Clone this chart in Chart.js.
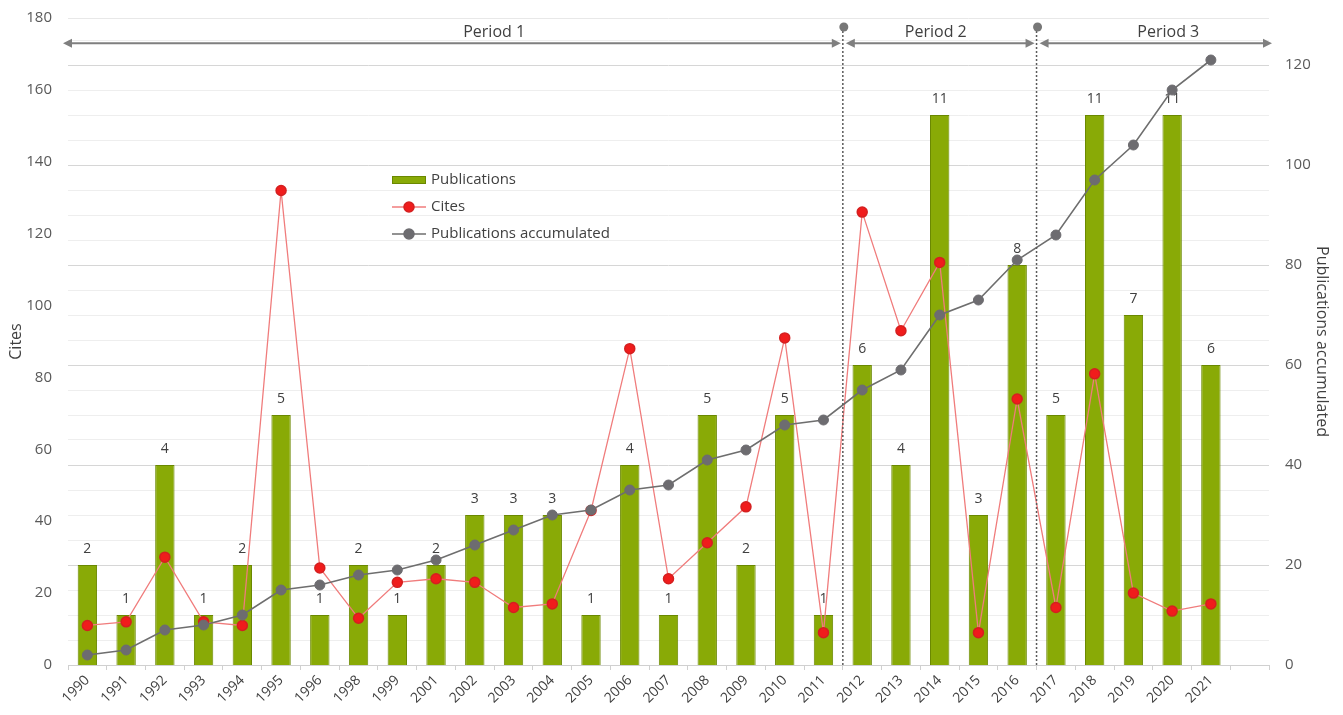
<!DOCTYPE html>
<html>
<head>
<meta charset="utf-8">
<script src="https://cdn.jsdelivr.net/npm/chart.js@4.4.1/dist/chart.umd.min.js"></script>
<style>
  html, body { margin: 0; padding: 0; background: #ffffff; overflow: hidden; }
  #wrap { width: 1343px; height: 715px; position: relative; }
</style>
</head>
<body>
<div id="wrap"><canvas id="chart" width="1343" height="715"></canvas></div>
<script>
// ---- data ----
const years = ['1990','1991','1992','1993','1994','1995','1996','1998','1999','2001',
               '2002','2003','2004','2005','2006','2007','2008','2009','2010','2011',
               '2012','2013','2014','2015','2016','2017','2018','2019','2020','2021'];
const publications = [2, 1, 4, 1, 2, 5, 1, 2, 1, 2,
                      3, 3, 3, 1, 4, 1, 5, 2, 5, 1,
                      6, 4, 11, 3, 8, 5, 11, 7, 11, 6];
const cites = [11, 12, 30, 12, 11, 132, 27, 13, 23, 24,
               23, 16, 17, 43, 88, 24, 34, 44, 91, 9,
               126, 93, 112, 9, 74, 16, 81, 20, 15, 17];
const accumulated = [2, 3, 7, 8, 10, 15, 16, 18, 19, 21,
                     24, 27, 30, 31, 35, 36, 41, 43, 48, 49,
                     55, 59, 70, 73, 81, 86, 97, 104, 115, 121];
const citesTicks = [0, 20, 40, 60, 80, 100, 120, 140, 160, 180];
const accumulatedTicks = [0, 20, 40, 60, 80, 100, 120];
const periodNames = ['Period 1', 'Period 2', 'Period 3'];

// ---- layout helpers (category boundaries and label anchors, in category units) ----
const periodBreaks = [19.5, 24.5];          // 2011|2012 and 2016|2017
const periodLabelAt = [10.5, 21.9, 27.9];
const ARROW_CITES = 173;                     // arrow height on the Cites scale
const DOT_CITES = 177.5;
const ACC_MAX = 129.4;                       // right axis top aligned with Cites = 180
const FONT = '"Open Sans", "Noto Sans", "DejaVu Sans", sans-serif';

Chart.defaults.font.family = FONT;
Chart.defaults.color = '#595959';

// one blank slot after the last year
const labels = years.concat(['']);

// value labels above the bars, drawn before the lines so the lines sit on top
const barValueLabels = {
  id: 'barValueLabels',
  afterDatasetDraw(chart, args) {
    if (args.index !== 0) return;
    const ctx = chart.ctx;
    const values = chart.data.datasets[0].data;
    ctx.save();
    ctx.font = '14px ' + FONT;
    ctx.fillStyle = '#404040';
    ctx.textAlign = 'center';
    ctx.textBaseline = 'middle';
    args.meta.data.forEach((bar, i) => {
      if (values[i] == null) return;
      ctx.fillText(String(values[i]), bar.x, bar.y - 16);
    });
    ctx.restore();
  }
};

// period dividers, arrows and names
function drawArrowHead(ctx, x, y, dir) {
  ctx.beginPath();
  ctx.moveTo(x, y);
  ctx.lineTo(x - dir * 9, y - 4.5);
  ctx.lineTo(x - dir * 9, y + 4.5);
  ctx.closePath();
  ctx.fill();
}
const periodMarks = {
  id: 'periodMarks',
  afterDatasetsDraw(chart) {
    const { ctx, chartArea: a, scales: { x, y } } = chart;
    const yArrow = y.getPixelForValue(ARROW_CITES);
    const yDot = y.getPixelForValue(DOT_CITES);
    const xb = periodBreaks.map(b => x.getPixelForValue(b));
    ctx.save();
    // dotted dividers with a dot on top
    xb.forEach(px => {
      ctx.strokeStyle = '#5a5a5a';
      ctx.lineWidth = 1.5;
      ctx.setLineDash([2, 2]);
      ctx.beginPath();
      ctx.moveTo(px, yDot);
      ctx.lineTo(px, a.bottom);
      ctx.stroke();
      ctx.setLineDash([]);
      ctx.fillStyle = '#777777';
      ctx.beginPath();
      ctx.arc(px + 1, yDot, 4.5, 0, Math.PI * 2);
      ctx.fill();
    });
    // double-headed arrows
    const spans = [
      [a.left - 5, xb[0] - 2],
      [xb[0] + 3, xb[1] - 2],
      [xb[1] + 3, a.right + 3]
    ];
    ctx.strokeStyle = '#7f7f7f';
    ctx.fillStyle = '#7f7f7f';
    ctx.lineWidth = 2;
    spans.forEach(([x0, x1]) => {
      ctx.beginPath();
      ctx.moveTo(x0 + 6, yArrow);
      ctx.lineTo(x1 - 6, yArrow);
      ctx.stroke();
      drawArrowHead(ctx, x0, yArrow, -1);
      drawArrowHead(ctx, x1, yArrow, 1);
    });
    // names
    ctx.font = '16px ' + FONT;
    ctx.fillStyle = '#404040';
    ctx.textAlign = 'center';
    ctx.textBaseline = 'middle';
    periodNames.forEach((name, i) => {
      ctx.fillText(name, x.getPixelForValue(periodLabelAt[i]), yArrow - 11);
    });
    ctx.restore();
  }
};

// legend inside the plot
const innerLegend = {
  id: 'innerLegend',
  afterDraw(chart) {
    const { ctx, chartArea: a } = chart;
    const x0 = a.left + 324, y0 = a.top + 162, rowH = 27, sw = 34;
    ctx.save();
    ctx.font = '15px ' + FONT;
    ctx.textBaseline = 'middle';
    ctx.textAlign = 'left';
    chart.data.datasets.forEach((ds, i) => {
      const yy = y0 + i * rowH;
      if (ds.type === 'bar') {
        ctx.fillStyle = ds.backgroundColor;
        ctx.fillRect(x0, yy - 4, sw, 8);
        ctx.strokeStyle = ds.borderColor;
        ctx.lineWidth = 1;
        ctx.strokeRect(x0 + 0.5, yy - 3.5, sw - 1, 7);
      } else {
        ctx.strokeStyle = ds.borderColor;
        ctx.lineWidth = 1.5;
        ctx.beginPath();
        ctx.moveTo(x0, yy);
        ctx.lineTo(x0 + sw, yy);
        ctx.stroke();
        ctx.fillStyle = ds.pointBackgroundColor;
        ctx.strokeStyle = ds.pointBorderColor;
        ctx.beginPath();
        ctx.arc(x0 + sw / 2, yy, 5, 0, Math.PI * 2);
        ctx.fill();
        ctx.stroke();
      }
      ctx.fillStyle = '#404040';
      ctx.fillText(ds.label, x0 + sw + 5, yy);
    });
    ctx.restore();
  }
};

new Chart(document.getElementById('chart'), {
  data: {
    labels: labels,
    datasets: [
      {
        type: 'bar',
        label: 'Publications',
        data: publications,
        yAxisID: 'yb',
        backgroundColor: '#89aa06',
        borderColor: '#6a8800',
        borderWidth: 1,
        barPercentage: 1,
        categoryPercentage: 0.5,
        order: 3
      },
      {
        type: 'line',
        label: 'Cites',
        data: cites,
        yAxisID: 'y',
        borderColor: '#f07c7c',
        borderWidth: 1.3,
        tension: 0,
        pointRadius: 5,
        pointBorderWidth: 1.5,
        pointBackgroundColor: '#f01c1c',
        pointBorderColor: '#d42020',
        order: 2
      },
      {
        type: 'line',
        label: 'Publications accumulated',
        data: accumulated,
        yAxisID: 'y1',
        borderColor: '#6e6e6e',
        borderWidth: 1.6,
        tension: 0,
        pointRadius: 5,
        pointBorderWidth: 1,
        pointBackgroundColor: '#6d6c70',
        pointBorderColor: '#6d6c70',
        order: 1
      }
    ]
  },
  options: {
    responsive: false,
    animation: false,
    layout: { padding: { top: 18, left: 0, right: 0, bottom: 0 } },
    plugins: {
      legend: { display: false },
      tooltip: { enabled: false }
    },
    scales: {
      x: {
        offset: true,
        grid: { display: true, offset: true, drawOnChartArea: false, drawTicks: true, tickLength: 5, color: '#d0d0d0' },
        border: { display: true, color: '#d0d0d0' },
        ticks: { autoSkip: false, maxRotation: 45, minRotation: 45, color: '#404040', font: { size: 14 }, padding: 2 },
        afterFit(s) { s.height = 50; }
      },
      y: {
        position: 'left',
        min: citesTicks[0],
        max: citesTicks[citesTicks.length - 1],
        afterBuildTicks(s) { s.ticks = citesTicks.map(v => ({ value: v })); },
        ticks: { color: '#595959', font: { size: 15 }, padding: 3 },
        grid: {
          drawTicks: true, tickLength: 13, tickColor: 'rgba(0,0,0,0)',
          color: c => (c.tick && c.tick.value === 180 ? '#e8e8e8' : 'rgba(0,0,0,0)')
        },
        border: { display: false },
        title: { display: true, text: 'Cites', color: '#404040', font: { size: 16 }, padding: { top: 7, bottom: 0 } },
        afterFit(s) { s.width = 68; }
      },
      y1: {
        position: 'right',
        min: 0,
        max: ACC_MAX,
        ticks: {
          stepSize: 5,
          includeBounds: false,
          autoSkip: false,
          color: '#595959',
          font: { size: 15 },
          padding: 3,
          callback: v => (accumulatedTicks.includes(v) ? String(v) : '')
        },
        grid: {
          drawTicks: true, tickLength: 13, tickColor: 'rgba(0,0,0,0)',
          color: c => (c.tick && c.tick.value % 20 === 0 ? '#d6d6d6' : '#eeeeee')
        },
        border: { display: false },
        title: { display: true, text: 'Publications accumulated', color: '#404040', font: { size: 16 }, padding: { top: 12, bottom: 0 } },
        afterFit(s) { s.width = 74; }
      },
      yb: { display: false, min: 0, max: ACC_MAX / 10 }
    }
  },
  plugins: [barValueLabels, periodMarks, innerLegend]
});
</script>
</body>
</html>
